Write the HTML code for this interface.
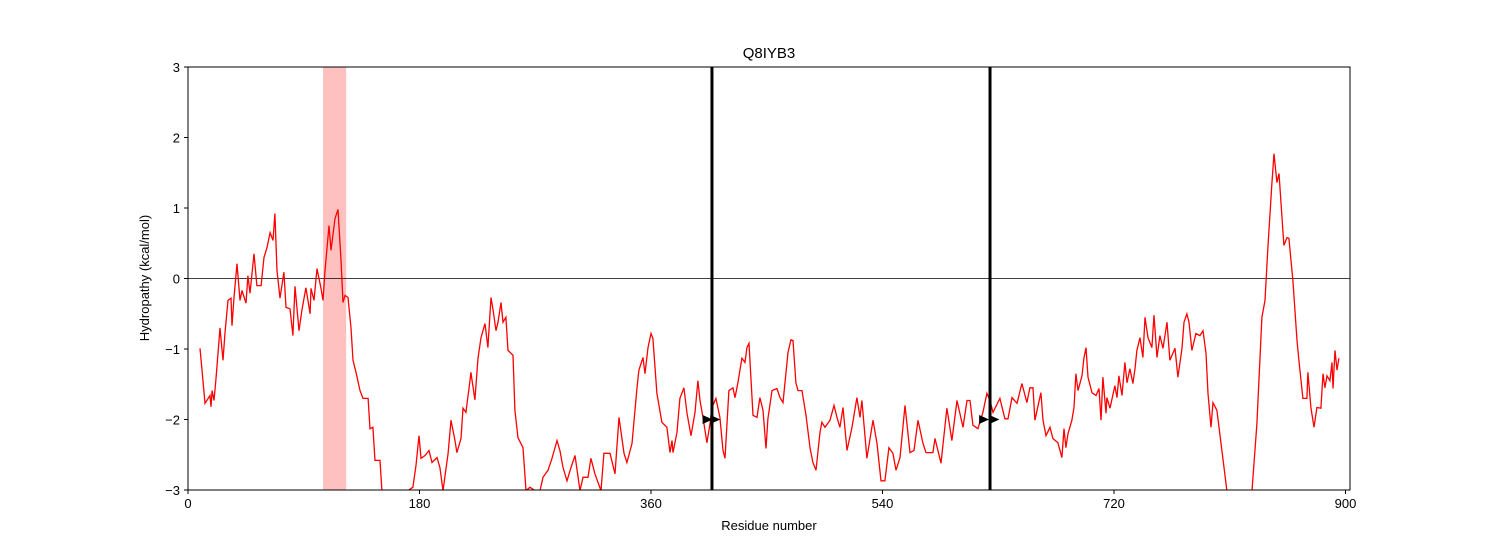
<!DOCTYPE html>
<html><head><meta charset="utf-8"><style>
body{margin:0;background:#fff;}
svg text{font-family:"Liberation Sans",sans-serif;fill:#000;}
</style></head><body>
<svg id="chart" width="1500" height="550" xmlns="http://www.w3.org/2000/svg">
<defs><clipPath id="clip"><rect x="188" y="67" width="1162" height="423"/></clipPath></defs>
<rect x="0" y="0" width="1500" height="550" fill="#fff"/>
<g id="plot"></g>
</svg>
<script>
const residues=[9.3,10.9,13.2,17.1,17.9,18.7,20.2,21.8,24.9,27.2,28.8,31.1,33.4,34.2,35.8,38.1,40.4,42.0,45.1,46.6,48.2,51.3,53.6,56.8,59.1,61.4,63.8,66.1,67.6,69.2,71.5,74.6,76.2,79.3,81.6,83.2,86.3,88.6,91.7,94.9,95.6,98.0,100.3,103.4,105.0,106.5,109.6,111.2,114.3,116.6,119.0,120.5,122.1,124.4,126.7,128.3,130.6,133.7,136.1,140.0,141.5,143.8,145.4,149.3,150.8,157,165,171.0,174.9,177.3,179.6,181.2,184.3,187.4,189.7,193.6,195.9,198.3,202.2,204.5,207.6,209.1,212.3,213.8,216.1,219.3,220.0,223.1,225.5,227.8,230.9,233.2,235.6,237.1,239.5,241.0,243.4,244.9,247.2,248.8,252.7,254.2,256.6,260.5,262.8,265.9,269.8,273.7,276.0,279.9,283.0,286.9,289.2,291.6,294.7,297.8,300.9,304.8,307.1,311.0,313.3,316.4,321.1,323.4,328.1,332.0,335.1,339.0,341.3,345.2,349.1,350.6,353.8,355.3,357.7,360.0,361.5,364.6,368.5,372.4,374.8,376.3,377.1,380.2,382.5,385.6,388.0,391.1,394.2,396.5,398.1,400.4,403.5,405.9,407.4,410.5,413.6,416.0,417.5,420.6,423.7,425.3,427.6,430.7,433.1,434.6,436.2,439.3,442.4,444.7,447.1,449.4,450.9,454.1,457.9,460.3,462.6,466.5,468.8,470.4,472.7,474.3,477.4,480.5,483.6,485.9,488.3,491.4,492.9,495.3,499.2,502.3,504.6,506.9,509.3,512.4,516.3,520.1,522.5,524.0,527.9,532.6,535.7,538.8,541.9,545.0,548.1,550.5,553.6,557.5,561.4,564.5,567.6,571.5,573.8,579.2,580.8,585.5,590.1,594.0,597.9,602.6,605.7,608.0,610.3,614.2,618.1,621.2,623.6,625.9,631.3,635.2,637.6,640.7,644.6,648.4,652.3,654.6,657.0,658.5,663.2,664.8,667.1,670.2,672.5,676.4,679.5,681.1,682.6,684.2,687.3,688.9,690.4,692.0,695.1,696.6,698.2,699.8,702.9,706.0,708.3,709.9,711.4,713.8,714.5,716.9,720.7,722.3,723.8,726.2,728.5,730.1,732.4,734.7,736.3,737.8,740.2,742.5,744.1,746.4,749.5,751.1,753.4,755.7,758.1,761.2,763.5,767.4,769.7,772.9,774.4,776.7,778.3,780.6,783.7,786.8,789.2,791.5,793.1,795.4,797.0,800.0,807.8,817.9,827.3,831.1,835.0,837.4,839.7,842.8,844.4,846.7,848.3,852.1,854.5,856.0,859.1,862.3,863.8,866.9,870.0,870.8,873.1,875.5,877.8,880.9,882.5,884.0,885.6,887.9,889.5,890.3,891.8,893.4,894.9];
const hydropathy=[-0.99,-1.30,-1.77,-1.66,-1.82,-1.59,-1.73,-1.42,-0.70,-1.16,-0.77,-0.31,-0.28,-0.67,-0.27,0.21,-0.31,-0.17,-0.35,0.04,-0.21,0.35,-0.10,-0.10,0.30,0.44,0.65,0.54,0.92,0.11,-0.28,0.09,-0.41,-0.43,-0.81,-0.11,-0.74,-0.45,-0.13,-0.50,-0.14,-0.31,0.14,-0.14,-0.31,0.11,0.75,0.40,0.85,0.98,0.26,-0.34,-0.24,-0.27,-0.70,-1.16,-1.33,-1.59,-1.70,-1.70,-2.13,-2.11,-2.58,-2.58,-3.01,-3.3,-3.4,-3.01,-2.96,-2.65,-2.23,-2.55,-2.51,-2.44,-2.61,-2.54,-2.68,-3.01,-2.48,-2.01,-2.30,-2.47,-2.27,-1.84,-1.90,-1.45,-1.33,-1.72,-1.13,-0.84,-0.64,-0.98,-0.27,-0.43,-0.74,-0.62,-0.34,-0.62,-0.55,-1.02,-1.09,-1.87,-2.26,-2.40,-3.01,-2.96,-3.01,-3.01,-2.82,-2.72,-2.55,-2.30,-2.44,-2.68,-2.87,-2.68,-2.51,-3.01,-2.82,-2.82,-2.55,-2.77,-3.01,-2.48,-2.48,-2.77,-1.97,-2.48,-2.61,-2.34,-1.55,-1.30,-1.12,-1.35,-0.98,-0.78,-0.85,-1.63,-2.04,-2.11,-2.47,-2.30,-2.47,-2.18,-1.70,-1.55,-1.91,-2.23,-1.90,-1.45,-1.73,-1.97,-2.33,-2.06,-1.83,-1.70,-1.97,-2.44,-2.55,-1.59,-1.55,-1.69,-1.48,-1.13,-1.19,-0.98,-0.92,-1.94,-1.97,-1.69,-1.87,-2.41,-1.99,-1.59,-1.56,-1.69,-1.76,-1.05,-0.87,-0.88,-1.48,-1.59,-1.59,-1.94,-2.40,-2.61,-2.72,-2.18,-2.04,-2.11,-2.01,-1.80,-1.97,-2.11,-1.83,-2.44,-2.11,-1.69,-1.97,-1.73,-2.55,-2.01,-2.34,-2.87,-2.87,-2.40,-2.48,-2.72,-2.54,-1.80,-2.47,-2.44,-2.01,-2.34,-2.47,-2.47,-2.27,-2.62,-1.84,-2.30,-1.73,-2.11,-1.73,-1.73,-2.08,-2.13,-1.90,-1.63,-1.73,-1.90,-1.70,-1.99,-1.99,-1.69,-1.77,-1.49,-1.76,-1.55,-1.55,-2.01,-1.62,-2.01,-2.23,-2.11,-2.27,-2.33,-2.54,-2.13,-2.40,-2.20,-2.01,-1.83,-1.35,-1.59,-1.38,-1.13,-0.98,-1.40,-1.62,-1.66,-1.56,-2.01,-1.40,-1.91,-1.69,-1.84,-1.52,-1.69,-1.38,-1.66,-1.19,-1.48,-1.28,-1.49,-1.28,-1.02,-0.84,-1.12,-0.55,-0.84,-0.98,-0.52,-1.12,-0.81,-0.99,-0.62,-1.16,-0.99,-1.40,-0.99,-0.62,-0.50,-0.62,-1.02,-0.78,-0.81,-0.74,-1.06,-1.63,-2.11,-1.76,-1.87,-3.01,-3.6,-3.01,-2.06,-0.55,-0.31,0.44,1.35,1.77,1.36,1.49,0.47,0.58,0.57,-0.03,-0.88,-1.16,-1.70,-1.70,-1.33,-1.83,-2.11,-1.83,-1.84,-1.35,-1.55,-1.38,-1.45,-1.19,-1.56,-1.02,-1.30,-1.13];
const xTicks=[0,180,360,540,720,900];
const yTicks=[-3,-2,-1,0,1,2,3];
const tmBoundaries=[407.4,623.6];
const highlightSpan=[105,123];
const markerResidues=[404,410,619,627];
const markerValue=-2;

const X0=188,X1=1350,Y0=490,Y1=67,XMAX=903.5;
const sx=v=>X0+v/XMAX*(X1-X0);
const sy=v=>Y0-(v+3)/6*(Y0-Y1);
const NS='http://www.w3.org/2000/svg';
const g=document.getElementById('plot');
function mk(tag,attrs,parent){const e=document.createElementNS(NS,tag);for(const k in attrs)e.setAttribute(k,attrs[k]);(parent||g).appendChild(e);return e;}

const span=mk('rect',{x:sx(highlightSpan[0]),y:Y1,width:sx(highlightSpan[1])-sx(highlightSpan[0]),height:Y0-Y1,fill:'#ffc0c0'});



const zl=mk('line',{x1:X0,x2:X1,y1:sy(0),y2:sy(0),stroke:'#000','stroke-width':0.8});



let d='';residues.forEach((r,i)=>{d+=(i?'L':'M')+sx(r).toFixed(1)+','+sy(hydropathy[i]).toFixed(1);});
const line=mk('path',{d:d,fill:'none',stroke:'#ff0000','stroke-width':1.3,'clip-path':'url(#clip)'});



tmBoundaries.forEach(b=>{
  const l=mk('line',{x1:sx(b),x2:sx(b),y1:Y1,y2:Y0,stroke:'#000','stroke-width':3});
  
  
});
markerResidues.forEach(m=>{
  const cx=sx(m),cy=sy(markerValue);
  const t=mk('polygon',{points:`${cx-5},${cy-4.5} ${cx+5},${cy} ${cx-5},${cy+4.5}`,fill:'#000'});
  
  
});

const frame=mk('rect',{x:X0,y:Y1,width:X1-X0,height:Y0-Y1,fill:'none',stroke:'#000','stroke-width':1});



xTicks.forEach(t=>{
  const x=sx(t);
  const tk=mk('line',{x1:x,x2:x,y1:Y0,y2:Y0+4,stroke:'#000','stroke-width':1});
  
  
  const lb=mk('text',{x:x,y:Y0+18,'text-anchor':'middle','font-size':13});
  lb.textContent=t;
  
  
});
yTicks.forEach(t=>{
  const y=sy(t);
  const tk=mk('line',{x1:X0-4,x2:X0,y1:y,y2:y,stroke:'#000','stroke-width':1});
  
  
  const lb=mk('text',{x:X0-8,y:y+5,'text-anchor':'end','font-size':13});
  lb.textContent=(t<0?'\u2212'+(-t):t);
  
  
});
const title=mk('text',{x:769,y:58,'text-anchor':'middle','font-size':15});
title.textContent='Q8IYB3';


const xl=mk('text',{x:769,y:530,'text-anchor':'middle','font-size':13});
xl.textContent='Residue number';


const yl=mk('text',{x:0,y:0,'text-anchor':'middle','font-size':13,transform:'translate(149,278) rotate(-90)'});
yl.textContent='Hydropathy (kcal/mol)';


</script>
</body></html>
